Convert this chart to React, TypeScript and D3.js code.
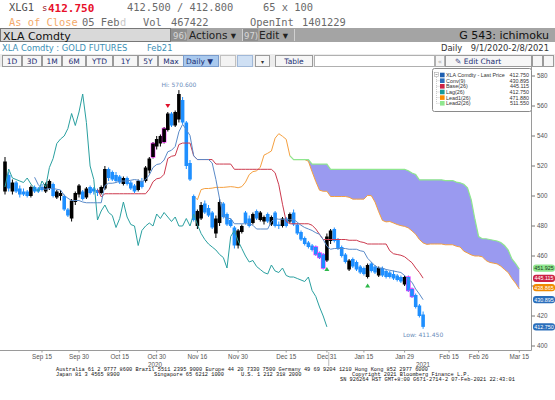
import React from "react";
import * as d3 from "d3";

// ---------- data (daily bars from Sep 1 2020, weekday index) ----------
const opens = [
  503, 514, 503, 509, 505, 503, 503, 500, 506, 505, 506, 503, 505, 508, 499, 500, 500, 491, 485, 496,
  501, 503, 499, 506, 505, 504, 502, 505, 518, 516, 514, 513, 508, 512, 509, 507, 504, 510, 510, 517,
  526, 533, 535, 536, 544, 555, 547, 551, 564, 549, 522, 500, 480, 485, 495, 492, 489, 475, 482, 495,
  488, 484, 479, 467, 476, 489, 485, 482, 490, 484, 483, 488, 481, 489, 481, 480, 485, 483, 489, 481,
  476, 472, 469, 467, 466, 462, 461, 457, 470, 478, 471, 466, 461, 451, 458, 456, 453, 452, 446, 455,
  453, 447, 452, 450, 449, 448, 447, 446, 441, 446, 438, 434, 427, 421,
];
const highs = [
  526, 516, 511, 510, 507, 505, 504, 507, 507, 506, 508, 509, 511, 509, 504, 504, 501, 492, 498, 503,
  508, 504, 506, 507, 506, 505, 507, 520, 519, 517, 516, 514, 513, 513, 510, 508, 511, 512, 520, 526,
  536, 540, 541, 546, 556, 556, 557, 570.6, 566, 550, 524, 501, 491, 496, 497, 494, 490, 487, 498, 496,
  489, 485, 480, 478, 481, 490, 487, 489, 491, 490, 487, 489, 487, 490, 483, 486, 486, 489, 491, 482,
  477, 473, 470, 468, 467, 463, 462, 475, 478, 479, 472, 467, 462, 458, 459, 457, 454, 453, 455, 456,
  454, 453, 453, 451, 450, 450.3, 448, 447, 447, 447, 439, 435, 428, 423,
];
const lows = [
  501, 503, 501, 502, 499, 500, 499, 499, 502, 502, 503, 502, 504, 499, 498, 497, 490, 486, 483, 494,
  499, 497, 498, 501, 501, 500, 501, 504, 510, 510, 509, 508, 507, 507, 504, 502, 503, 505, 509, 515,
  525, 531, 533, 535, 543, 546, 546, 549, 548, 518, 510, 483, 478, 484, 488, 486, 478, 472, 480, 485,
  480, 479, 465, 465, 475, 481, 479, 481, 484, 483, 481, 482, 480, 479, 478, 479, 479, 482, 480, 474,
  470, 467, 465, 463, 460, 458, 451, 456, 468, 469, 464, 459, 455, 450, 452, 450, 448, 447, 445, 449,
  448, 446, 446, 445, 445, 444, 443, 442, 440, 436, 432, 425, 419, 411.45,
];
const closes = [
  523, 505, 509, 503, 501, 501, 500, 506, 503, 503, 504, 508, 510, 500, 503, 502, 491, 487, 497, 502,
  507, 498, 505, 502, 503, 502, 506, 518, 512, 511, 510, 509, 512, 508, 505, 503, 510, 506, 519, 525,
  535, 538, 540, 545, 555, 547, 556, 568, 549, 520, 511, 484, 490, 494, 489, 487, 479, 485, 496, 486,
  481, 480, 467, 477, 480, 482, 480, 488, 485, 489, 486, 483, 486, 480, 480, 485, 480, 488, 481, 475,
  471, 468, 466, 464, 461, 459, 452, 473, 477, 470, 465, 460, 456, 457, 453, 451, 449, 448, 454, 450,
  449, 452, 447, 446, 446, 445, 444, 443, 446, 437, 433, 426, 420, 412.75,
];
const magentaBars = [40, 43, 84, 85, 86, 109, 110];
const sellSignals = [44];
const buySignals = [87, 98];

const xTickLabels = ["Sep 15", "Sep 30", "Oct 15", "Oct 30", "Nov 16", "Nov 30", "Dec 15", "Dec 31", "Jan 15", "Jan 29", "Feb 15", "Feb 26", "Mar 15"];
const xTickIndex = [10, 20, 31, 41, 52, 63, 76, 87, 97, 108, 120, 128, 139];
const yearLabels = ["2020", "2021"];
const yearSpans = [[0, 87], [87, 139]];
const yTicks = [400, 420, 440, 460, 480, 500, 520, 540, 560, 580];

const legendNames = ["XLA Comdty - Last Price", "Conv(9)", "Base(26)", "Lag(26)", "Lead1(26)", "Lead2(26)"];
const legendValues = ["412.750", "430.895", "445.115", "412.750", "471.880", "511.550"];
const legendColors = ["#1f5fb0", "#2a6ebb", "#cc2244", "#1a9a9a", "#ff8c00", "#8fe68f"];

const tagValues = [451.925, 445.115, 438.865, 430.895, 412.75];
const tagColors = ["#8fe68f", "#cc2244", "#f08a00", "#2a6ebb", "#2a6ebb"];
const tagText = ["#1a3a1a", "#ffffff", "#ffffff", "#ffffff", "#ffffff"];

const periodButtons = ["1D", "3D", "1M", "6M", "YTD", "1Y", "5Y", "Max"];

export default function App() {
  const n = closes.length;
  const x = d3.scaleLinear().domain([0, 139]).range([5, 5 + 3.7 * 139]);
  const y = d3.scaleLinear().domain([400, 580]).range([346, 76]);

  const mid = (i: number, p: number): number | null => {
    if (i < p - 1 || i >= n) return null;
    const hh = d3.max(highs.slice(i - p + 1, i + 1)) as number;
    const ll = d3.min(lows.slice(i - p + 1, i + 1)) as number;
    return (hh + ll) / 2;
  };
  const idx = d3.range(n);
  const tenkan = idx.map((i) => mid(i, 9));
  const kijun = idx.map((i) => mid(i, 26));
  const fwd = d3.range(n + 26);
  const lead1 = fwd.map((j) => {
    const k = j - 26;
    if (k < 0) return null;
    const t = tenkan[k], b = kijun[k];
    return t == null || b == null ? null : (t + b) / 2;
  });
  const lead2 = fwd.map((j) => mid(j - 26, 52));
  const lag = d3.range(n - 26).map((i) => closes[i + 26]);

  const line = d3
    .line<number | null>()
    .defined((d) => d != null)
    .x((_, i) => x(i))
    .y((d) => y(d as number));

  const cloud = d3
    .area<number>()
    .defined((j) => lead1[j] != null && lead2[j] != null)
    .x((j) => x(j))
    .y0((j) => y(lead1[j] as number))
    .y1((j) => y(Math.max(lead1[j] as number, lead2[j] as number)));

  const mono = "'DejaVu Sans Mono', monospace";
  const sans = "'DejaVu Sans', sans-serif";
  const small = "'Liberation Sans', Arial, sans-serif";

  const btnW = [19, 19, 19, 23, 26, 24, 19, 25];
  let bx = 2;
  const btns = periodButtons.map((t, i) => {
    const r = { t, x0: bx, w: btnW[i] };
    bx += btnW[i] + 1;
    return r;
  });

  const legendRows = [75, 80.7, 86.3, 92, 97.6, 103.3];
  // tick labels that sit under a value tag are hidden, as in the reference
  const visibleTicks = yTicks.filter((v) => !tagValues.some((t) => Math.abs(y(t) - y(v)) < 6));

  return (
    <svg width={555} height={400} style={{ position: "absolute", left: 0, top: 0, background: "#fff" }}
      fontFamily={sans}>
      <rect x={0} y={0} width={555} height={400} fill="#ffffff" />
      {/* header row 1 */}
      <g fontFamily={mono} fontSize={10.4}>
        <text x={9} y={11} fill="#505050">XLG1</text>
        <text x={42} y={11} fill="#9a1a2a" fontSize={9}>s</text>
        <text x={48} y={11.5} fill="#e8102a" fontSize={11} fontWeight="bold">412.750</text>
        <text x={127} y={11} fill="#6a6a6a">412.500 / 412.800</text>
        <text x={263} y={11} fill="#6a6a6a">65 x 100</text>
        <text x={9} y={25.5} fill="#f4a96a">As of Close</text>
        <text x={82} y={25.5} fill="#6a6a6a">05 Feb</text>
        <text x={120} y={25.5} fill="#c8c8c8">d</text>
        <text x={143} y={25.5} fill="#6a6a6a">Vol</text>
        <text x={171} y={25.5} fill="#6a6a6a">467422</text>
        <text x={250} y={25.5} fill="#6a6a6a">OpenInt</text>
        <text x={302} y={25.5} fill="#6a6a6a">1401229</text>
      </g>
      {/* header row 2: gray bar */}
      <rect x={0} y={28} width={555} height={14} fill="#a4a4a4" />
      <rect x={0.5} y={28.5} width={170} height={13} fill="#d9d9d9" stroke="#777" />
      <text x={3} y={39.5} fontSize={11} fill="#111">XLA Comdty</text>
      <rect x={171} y={29} width={16} height={12} fill="#8f8f8f" />
      <text x={173} y={38.5} fontSize={8.5} fill="#d8d8d8">96)</text>
      <text x={189} y={39} fontSize={10.5} fill="#222">Actions ▾</text>
      <line x1={242.5} y1={29} x2={242.5} y2={41} stroke="#d0d0d0" />
      <rect x={243} y={29} width={15} height={12} fill="#8f8f8f" />
      <text x={244} y={38.5} fontSize={8.5} fill="#d8d8d8">97)</text>
      <text x={259} y={39} fontSize={10.5} fill="#222">Edit ▾</text>
      <line x1={294.5} y1={29} x2={294.5} y2={41} stroke="#d0d0d0" />
      <text x={549} y={39} fontSize={11} fill="#111" textAnchor="end">G 543: ichimoku</text>
      {/* header row 3 */}
      <text x={2} y={50.5} fontSize={8.4} fill="#3b8fb5">XLA Comdty : GOLD FUTURES</text>
      <text x={147} y={50.5} fontSize={8.4} fill="#3b8fb5">Feb21</text>
      <text x={441} y={50.5} fontSize={8.4} fill="#333">Daily</text>
      <text x={549} y={50.5} fontSize={8.4} fill="#333" textAnchor="end">9/1/2020-2/8/2021</text>
      {/* header row 4: buttons */}
      <rect x={0} y={54} width={555} height={13} fill="#ececec" />
      {btns.map((b) => (
        <g key={b.t}>
          <rect x={b.x0 + 0.5} y={55.5} width={b.w} height={11} fill="#f6f6f6" stroke="#9a9a9a" />
          <text x={b.x0 + b.w / 2 + 0.5} y={64} fontSize={7.5} fill="#1c2f73" textAnchor="middle">{b.t}</text>
        </g>
      ))}
      <rect x={183.5} y={55.5} width={35} height={11} fill="#a9c9ee" stroke="#7a9ccc" />
      <text x={186} y={64} fontSize={7.5} fill="#1c2f73">Daily ▼</text>
      <rect x={220.5} y={55.5} width={15} height={11} fill="#f3f3f3" stroke="#c0c0c0" />
      <rect x={237.5} y={55.5} width={15} height={11} fill="#cfe0f4" stroke="#a0b8d8" />
      <rect x={255.5} y={55.5} width={14} height={11} fill="#f6f6f6" stroke="#9a9a9a" />
      <text x={262.5} y={63.5} fontSize={6} fill="#333" textAnchor="middle">▾</text>
      <rect x={275.5} y={55.5} width={37} height={11} fill="#f6f6f6" stroke="#9a9a9a" />
      <text x={294} y={64} fontSize={7.5} fill="#1c2f73" textAnchor="middle">Table</text>
      <rect x={314.5} y={55.5} width={120} height={11} fill="#ffffff" stroke="#b0b0b0" />
      <rect x={435.5} y={55.5} width={9} height={11} fill="#f6f6f6" stroke="#b0b0b0" />
      <text x={440} y={64} fontSize={7} fill="#aaa" textAnchor="middle">«</text>
      <rect x={445.5} y={55.5} width={86} height={11} fill="#f6f6f6" stroke="#9a9a9a" />
      <text x={455} y={64} fontSize={7.5} fill="#1c2f73">✎ Edit Chart</text>
      <rect x={532.5} y={55.5} width={10} height={11} fill="#f6f6f6" stroke="#9a9a9a" />
      <rect x={543.5} y={55.5} width={10} height={11} fill="#f6f6f6" stroke="#9a9a9a" />

      {/* chart area */}
      <defs>
        <clipPath id="plot">
          <rect x={0} y={67} width={531} height={283} />
        </clipPath>
      </defs>
      <g clipPath="url(#plot)">
        <path d={cloud(fwd) || ""} fill="#9a9af0" stroke="none" />
        <path d={line(lead1) || ""} fill="none" stroke="#f5a040" strokeWidth={1} />
        <path d={line(lead2) || ""} fill="none" stroke="#8fe68f" strokeWidth={1.2} />
        {idx.map((i) => {
          const o = opens[i], c = closes[i];
          const up = c >= o;
          const col = up ? "#000000" : "#1e8fff";
          const top = y(Math.max(o, c));
          const h = Math.max(1.5, Math.abs(y(o) - y(c)));
          const mag = magentaBars.includes(i);
          return (
            <g key={i}>
              <line x1={x(i)} x2={x(i)} y1={y(highs[i])} y2={y(lows[i])} stroke={col} strokeWidth={1} />
              {mag && (
                <rect x={x(i) - 2.3} y={top - 0.7} width={4.6} height={h + 1.4} fill="#ff33ff" />
              )}
              <rect x={x(i) - 1.8} y={top} width={3.6} height={h} fill={col} />
            </g>
          );
        })}
        <path d={line(lag) || ""} fill="none" stroke="#2aa0a0" strokeWidth={1} />
        <path d={line(kijun) || ""} fill="none" stroke="#cc3a4e" strokeWidth={1} />
        <path d={line(tenkan) || ""} fill="none" stroke="#5a8ac8" strokeWidth={1} />
        {sellSignals.map((i) => (
          <path key={"s" + i} d={`M${x(i) - 2.5},${y(highs[i]) - 8} L${x(i) + 2.5},${y(highs[i]) - 8} L${x(i)},${y(highs[i]) - 4} Z`} fill="#e0102a" />
        ))}
        {buySignals.map((i) => (
          <path key={"b" + i} d={`M${x(i) - 2.5},${y(lows[i]) + 9} L${x(i) + 2.5},${y(lows[i]) + 9} L${x(i)},${y(lows[i]) + 5} Z`} fill="#2db84a" />
        ))}
        <text x={x(47)} y={y(570.6) - 3} fontSize={6} fill="#6b8cba" textAnchor="middle">Hi: 570.600</text>
        <text x={x(n - 1)} y={y(411.45) + 8} fontSize={6} fill="#6b8cba" textAnchor="middle">Low: 411.450</text>
      </g>

      {/* axes */}
      <line x1={0} x2={531.5} y1={350.5} y2={350.5} stroke="#9a9a9a" />
      <line x1={531.5} x2={531.5} y1={67} y2={350.5} stroke="#9a9a9a" />
      {yTicks.map((v) => (
        <line key={"t" + v} x1={531.5} x2={535} y1={y(v)} y2={y(v)} stroke="#777" />
      ))}
      {visibleTicks.map((v) => (
        <text key={v} x={537} y={y(v) + 2.2} fontSize={6.3} fill="#555" fontFamily={small}>{v}</text>
      ))}
      {xTickLabels.map((t, i) => (
        <g key={t}>
          <line x1={x(xTickIndex[i])} x2={x(xTickIndex[i])} y1={350.5} y2={352.5} stroke="#999" />
          <text x={x(xTickIndex[i])} y={358.5} fontSize={6.3} fill="#555" textAnchor="middle" fontFamily={small}>{t}</text>
        </g>
      ))}
      {yearLabels.map((t, i) => (
        <text key={t} x={(x(yearSpans[i][0]) + x(yearSpans[i][1])) / 2 + (i === 0 ? -11 : 0)} y={367} fontSize={6.3} fill="#555" textAnchor="middle" fontFamily={small}>{t}</text>
      ))}
      <line x1={x(87.5)} x2={x(87.5)} y1={352} y2={366} stroke="#bbb" />

      {/* right tags */}
      {tagValues.map((v, i) => (
        <g key={i}>
          <rect x={533} y={y(v) - 3.6} width={22} height={7.2} rx={3} fill={tagColors[i]} />
          <text x={544} y={y(v) + 2} fontSize={5.4} fill={tagText[i]} textAnchor="middle" fontFamily={small}>{v.toFixed(3)}</text>
        </g>
      ))}

      {/* legend */}
      <rect x={432.5} y={68.5} width={99} height={43} rx={2} fill="#ffffff" stroke="#8a8a8a" />
      <rect x={434.5} y={72.5} width={4} height={4} fill="#fff" stroke="#aaa" strokeWidth={0.6} />
      <line x1={435.5} x2={437.5} y1={74.5} y2={74.5} stroke="#666" strokeWidth={0.6} />
      <line x1={436.5} x2={436.5} y1={77} y2={103.3} stroke="#aaa" strokeWidth={0.6} strokeDasharray="1,1" />
      {legendNames.map((name, i) => (
        <g key={name}>
          {i > 0 && <line x1={436.5} x2={439.5} y1={legendRows[i]} y2={legendRows[i]} stroke="#aaa" strokeWidth={0.6} strokeDasharray="1,1" />}
          <rect x={440} y={legendRows[i] - 2.3} width={4.6} height={4.6} fill={legendColors[i]} />
          <text x={446} y={legendRows[i] + 1.9} fontSize={5.4} fill="#333" fontFamily={small}>{name}</text>
          <text x={529} y={legendRows[i] + 1.9} fontSize={5.4} fill="#333" textAnchor="end" fontFamily={small}>{legendValues[i]}</text>
        </g>
      ))}

      {/* footer */}
      <g fontFamily="'Liberation Mono', monospace" fontSize={5.3} fill="#111">
        <text x={56} y={370.5}>Australia 61 2 9777 8600 Brazil 5511 2395 9000 Europe 44 20 7330 7500 Germany 49 69 9204 1210 Hong Kong 852 2977 6000</text>
        <text x={56} y={375.8}>Japan 81 3 4565 8900</text>
        <text x={154} y={375.8}>Singapore 65 6212 1000</text>
        <text x={241} y={375.8}>U.S. 1 212 318 2000</text>
        <text x={352} y={375.8}>Copyright 2021 Bloomberg Finance L.P.</text>
        <text x={340} y={381.2}>SN 926264 HST  GMT+8:00 G671-2714-2 07-Feb-2021 22:43:01</text>
      </g>
    </svg>
  );
}
